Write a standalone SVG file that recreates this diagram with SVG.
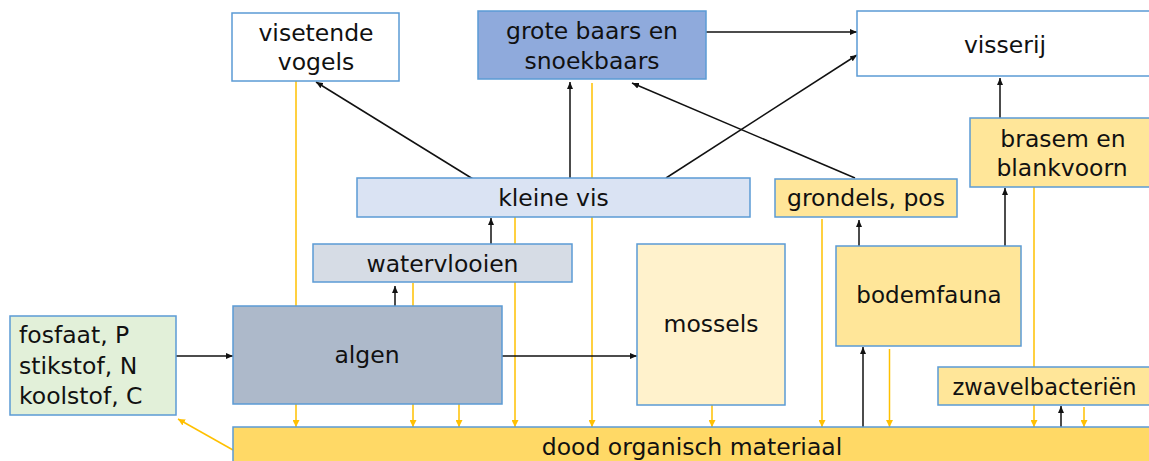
<svg xmlns="http://www.w3.org/2000/svg" width="1149" height="461" viewBox="0 0 1149 461">
<style>
.box{stroke:#5B9BD5;stroke-width:1.5}
.t{font-family:"DejaVu Sans",Verdana,sans-serif;font-size:23.5px;fill:#111;text-anchor:middle}
.tl{font-family:"DejaVu Sans",Verdana,sans-serif;font-size:23.5px;fill:#111}
.k{stroke:#111;stroke-width:1.5;fill:none;marker-end:url(#ak)}
.y{stroke:#FFC000;stroke-width:1.5;fill:none;marker-end:url(#ay)}
</style>
<defs>
<marker id="ak" markerUnits="userSpaceOnUse" markerWidth="8" markerHeight="6" refX="7" refY="3" orient="auto"><path d="M0,0 L7,3 L0,6 z" fill="#111"/></marker>
<marker id="ay" markerUnits="userSpaceOnUse" markerWidth="8" markerHeight="7" refX="7" refY="3.5" orient="auto"><path d="M0,0 L7,3.5 L0,7 z" fill="#FFC000"/></marker>
</defs>
<g id="connectors">
<line class="y" x1="296" y1="81" x2="296" y2="427"/>
<line class="y" x1="413" y1="283" x2="413" y2="427"/>
<line class="y" x1="459" y1="404" x2="459" y2="427"/>
<line class="y" x1="515" y1="217" x2="515" y2="427"/>
<line class="y" x1="592" y1="83" x2="592" y2="427"/>
<line class="y" x1="712" y1="405" x2="712" y2="427"/>
<line class="y" x1="822" y1="219" x2="822" y2="427"/>
<line class="y" x1="889.5" y1="349" x2="889.5" y2="427"/>
<line class="y" x1="1034" y1="187" x2="1034" y2="427"/>
<line class="y" x1="1084" y1="407" x2="1084" y2="427"/>
<line class="y" x1="233" y1="450" x2="178" y2="419"/>
<line class="k" x1="176" y1="356" x2="233" y2="356"/>
<line class="k" x1="502" y1="356" x2="637" y2="356"/>
<line class="k" x1="395" y1="306" x2="395" y2="286"/>
<line class="k" x1="491" y1="244" x2="491" y2="218"/>
<line class="k" x1="473" y1="179" x2="316" y2="82"/>
<line class="k" x1="570" y1="178" x2="570" y2="82"/>
<line class="k" x1="666" y1="178" x2="857" y2="55"/>
<line class="k" x1="706" y1="32" x2="857" y2="32"/>
<line class="k" x1="855" y1="178" x2="632" y2="83"/>
<line class="k" x1="1000" y1="118" x2="1000" y2="78"/>
<line class="k" x1="859" y1="246" x2="859" y2="220"/>
<line class="k" x1="1005" y1="246" x2="1005" y2="188"/>
<line class="k" x1="863" y1="427" x2="863" y2="347"/>
<line class="k" x1="1061" y1="427" x2="1061" y2="406"/>
</g>
<g id="visetende-vogels"><rect class="box" x="232" y="13" width="167" height="68" fill="#FFFFFF"/><text class="t" x="316" y="41">visetende</text><text class="t" x="316" y="70">vogels</text></g>
<g id="grote-baars"><rect class="box" x="478" y="11" width="228" height="68" fill="#8FAADC"/><text class="t" x="592" y="39">grote baars en</text><text class="t" x="592" y="69">snoekbaars</text></g>
<g id="visserij"><rect class="box" x="857" y="11" width="300" height="65" fill="#FFFFFF"/><text class="t" x="1005" y="53">visserij</text></g>
<g id="kleine-vis"><rect class="box" x="357" y="178" width="393" height="39" fill="#DAE3F3"/><text class="t" x="553.5" y="206">kleine vis</text></g>
<g id="grondels-pos"><rect class="box" x="775" y="179" width="182" height="38" fill="#FFE699"/><text class="t" x="866" y="206">grondels, pos</text></g>
<g id="brasem"><rect class="box" x="970" y="118" width="190" height="69" fill="#FFE699"/><text class="t" x="1063" y="147">brasem en</text><text class="t" x="1062" y="176">blankvoorn</text></g>
<g id="watervlooien"><rect class="box" x="313" y="244" width="259" height="38" fill="#D6DCE5"/><text class="t" x="442.5" y="272">watervlooien</text></g>
<g id="algen"><rect class="box" x="233" y="306" width="269" height="98" fill="#ADB9CA"/><text class="t" x="367" y="363">algen</text></g>
<g id="nutrienten"><rect class="box" x="10" y="316" width="166" height="99" fill="#E2F0D9"/><text class="tl" x="19" y="343">fosfaat, P</text><text class="tl" x="19" y="374">stikstof, N</text><text class="tl" x="19" y="404">koolstof, C</text></g>
<g id="mossels"><rect class="box" x="637" y="244" width="148" height="161" fill="#FFF2CC"/><text class="t" x="711" y="332">mossels</text></g>
<g id="bodemfauna"><rect class="box" x="836" y="246" width="185" height="100" fill="#FFE699"/><text class="t" x="929" y="303" style="font-size:23px">bodemfauna</text></g>
<g id="zwavelbacterien"><rect class="box" x="938" y="367" width="220" height="38" fill="#FFE699"/><text class="t" x="1044.5" y="395" style="font-size:22.5px">zwavelbacteriën</text></g>
<g id="dood-organisch-materiaal"><rect class="box" x="233" y="427" width="930" height="40" fill="#FFD966"/><text class="t" x="692" y="455">dood organisch materiaal</text></g>
</svg>
